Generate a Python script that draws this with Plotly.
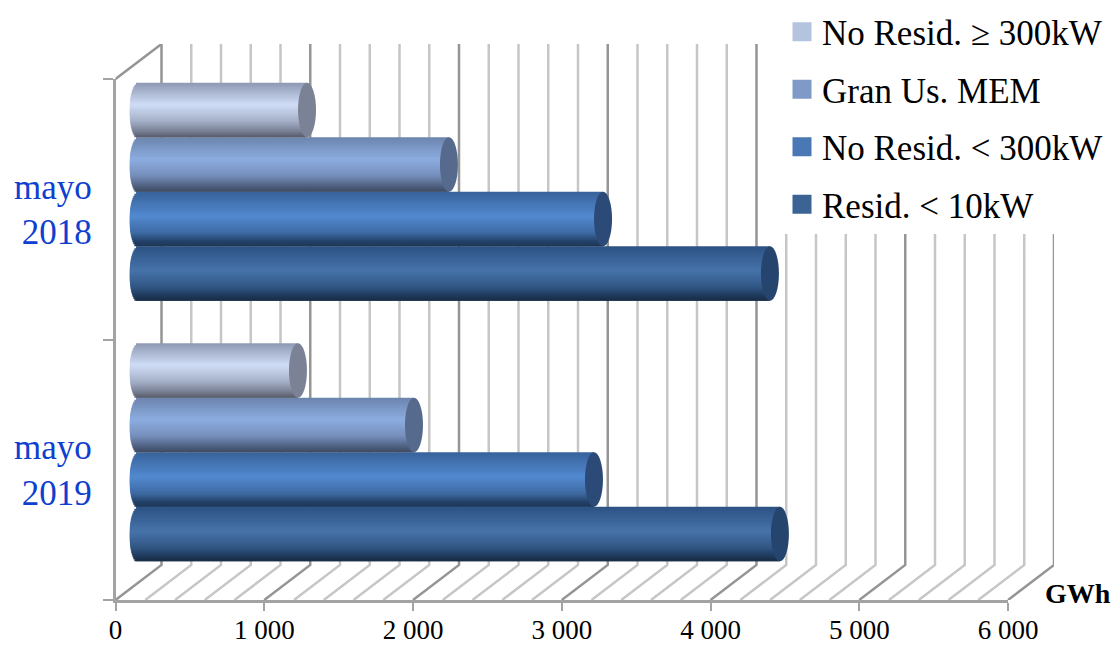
import math
import plotly.graph_objects as go

# ---- data ----
categories = ["mayo<br>2019", "mayo<br>2018"]
series_names = ["Resid. < 10kW", "No Resid. < 300kW", "Gran Us. MEM", "No Resid. ≥ 300kW"]
resid_lt_10 = [4312, 4245]
no_resid_lt_300 = [3062, 3123]
gran_us_mem = [1852, 2087]
no_resid_ge_300 = [1072, 1133]
tick_values = [0, 1000, 2000, 3000, 4000, 5000, 6000]
tick_labels = ["0", "1 000", "2 000", "3 000", "4 000", "5 000", "6 000"]
wall_steps = list(range(0, 6001, 200))

series_values = [resid_lt_10, no_resid_lt_300, gran_us_mem, no_resid_ge_300]
legend_colors = ["#3b6394", "#4a78b4", "#7f9ac6", "#b4c4de"]
cap_colors = ["#26456e", "#2b4a78", "#566a8d", "#7b8296"]
ramps = [
    [(0, "#2d5283"), (.45, "#4673aa"), (.75, "#315683"), (.9, "#1f3a5c"), (1, "#182c46")],
    [(0, "#38629a"), (.45, "#5289d0"), (.75, "#3e6aa3"), (.9, "#24436b"), (1, "#1d3655")],
    [(0, "#6b84ad"), (.4, "#8cace0"), (.7, "#7690bd"), (.9, "#4e5f7e"), (1, "#3d4a60")],
    [(0, "#8d98b3"), (.4, "#d0ddf6"), (.7, "#a6b1c9"), (.9, "#747c8f"), (1, "#565b69")],
]

# ---- geometry (pixels of the 1115x645 page) ----
W, H = 1115, 645
X0, X1, Y_BOTTOM, Y_TOP = 115.5, 1008, 600, 79
DX, DY = 46, 35                 # depth of the 3D box
PX_PER_UNIT = (X1 - X0) / 6000
PX_PER_CAT = (Y_BOTTOM - Y_TOP) / 2
BAR_H = 54.5 / PX_PER_CAT
CAP_PX = 9
CAP_A = CAP_PX / PX_PER_UNIT
N = 27


def xdom(a, b):
    return [a / W, b / W]


def ydom(top, bottom):
    return [1 - bottom / H, 1 - top / H]


def hex2rgb(c):
    return [int(c[i:i + 2], 16) for i in (1, 3, 5)]


def ramp_color(ramp, t):
    for (t0, c0), (t1, c1) in zip(ramp, ramp[1:]):
        if t <= t1:
            f = (t - t0) / (t1 - t0)
            a, b = hex2rgb(c0), hex2rgb(c1)
            return "rgb(%d,%d,%d)" % tuple(round(p + (q - p) * f) for p, q in zip(a, b))
    return ramp[-1][1]


fig = go.Figure()

# ---- walls and floor ----
dx_u, dy_c = DX / PX_PER_UNIT, DY / PX_PER_CAT
for major in (False, True):
    xs, ys = [], []
    for t in wall_steps:
        if (t % 1000 == 0) != major:
            continue
        xs += [t, t + dx_u, t + dx_u, None]
        ys += [-0.5, -0.5 + dy_c, 1.5 + dy_c, None]
    if major:
        xs += [0, dx_u, None]
        ys += [1.5, 1.5 + dy_c, None]
    fig.add_trace(go.Scatter(
        x=xs, y=ys, mode="lines", showlegend=False, hoverinfo="skip",
        line=dict(color="#959595" if major else "#c6c6c6", width=2.5),
        xaxis="x", yaxis="y"))

# ---- bars: each cylinder built of thin horizontal strips ----
shapes = []
idx = list(range(len(categories)))
for s, vals in enumerate(series_values):
    bar_top = -2 * BAR_H + (s + 1) * BAR_H
    for i in range(N):
        t = (i + .5) / N
        u = 2 * t - 1
        left = -CAP_A * math.sqrt(1 - u * u)
        rows = 2 if i < N - 1 else 1       # overlap the next strip, so no seams show
        fig.add_trace(go.Bar(
            y=idx, x=[v - left for v in vals], base=[left] * len(vals),
            orientation="h", width=rows * BAR_H / N,
            offset=bar_top - (i + rows) * BAR_H / N,
            marker=dict(color=ramp_color(ramps[s], t), line=dict(width=0)),
            showlegend=False, hoverinfo="skip", xaxis="x2", yaxis="y2"))
    for k, v in zip(idx, vals):
        shapes.append(dict(
            type="circle", xref="x2", yref="y2", layer="above",
            x0=v - CAP_A, x1=v + CAP_A,
            y0=k + bar_top - BAR_H, y1=k + bar_top,
            fillcolor=cap_colors[s], line=dict(width=0)))

# ---- front axes ----
fig.add_trace(go.Scatter(
    x=[0, 0], y=categories, mode="markers", marker=dict(opacity=0),
    showlegend=False, hoverinfo="skip", xaxis="x3", yaxis="y3"))

# ---- legend entries, top to bottom ----
for s in reversed(range(len(series_names))):
    fig.add_trace(go.Scatter(
        x=[None], y=[None], mode="markers", name=series_names[s],
        legendgroup=series_names[s],
        marker=dict(symbol="square", size=16, color=legend_colors[s],
                    line=dict(color=legend_colors[s], width=3)),
        xaxis="x3", yaxis="y3"))

SERIF = "Liberation Serif"
fig.update_layout(
    width=W, height=H, autosize=False,
    margin=dict(l=0, r=0, t=0, b=0, autoexpand=False),
    paper_bgcolor="white", plot_bgcolor="rgba(0,0,0,0)",
    barmode="overlay", shapes=shapes, font=dict(family=SERIF, color="#000000"),
    hovermode=False,
    xaxis=dict(domain=xdom(X0, X1 + DX), range=[0, 6000 + dx_u], visible=False, fixedrange=True),
    yaxis=dict(domain=ydom(Y_TOP - DY, Y_BOTTOM), range=[-.5, 1.5 + dy_c], visible=False, fixedrange=True),
    xaxis2=dict(domain=xdom(X0 + DX / 2 - CAP_PX, X1 + DX / 2), range=[-CAP_A, 6000], visible=False,
                anchor="y2", fixedrange=True),
    yaxis2=dict(domain=ydom(Y_TOP - DY / 2, Y_BOTTOM - DY / 2), range=[-.5, 1.5], visible=False,
                anchor="x2", fixedrange=True),
    xaxis3=dict(domain=xdom(X0, X1), range=[0, 6000], anchor="y3", showgrid=False, zeroline=False,
                showline=True, linecolor="#a3a3a3", linewidth=2.5,
                ticks="outside", ticklen=8, tickcolor="#a3a3a3", tickwidth=2,
                tickmode="array", tickvals=tick_values, ticktext=tick_labels,
                ticklabelstandoff=-4,
                tickfont=dict(family=SERIF, size=27, color="#000000"), fixedrange=True),
    yaxis3=dict(domain=ydom(Y_TOP, Y_BOTTOM), range=[-.5, 1.5], anchor="x3", type="category",
                categoryorder="array", categoryarray=categories, showgrid=False, zeroline=False,
                showline=True, linecolor="#a3a3a3", linewidth=2.5,
                ticks="outside", ticklen=10, tickcolor="#a3a3a3", tickwidth=2, tickson="boundaries",
                ticklabelstandoff=14,
                tickfont=dict(family=SERIF, size=35, color="#0f3fd0"), fixedrange=True),
    legend=dict(x=782 / W, y=0.996, xanchor="left", yanchor="top", bgcolor="white",
                borderwidth=0, traceorder="grouped", tracegroupgap=9, itemwidth=30,
                font=dict(family=SERIF, size=35, color="#000000"), itemclick=False, itemdoubleclick=False),
    annotations=[dict(text="<b>GWh</b>", xref="paper", yref="paper", x=1113 / W, y=1 - 593 / H,
                      xanchor="right", yanchor="middle", showarrow=False,
                      font=dict(family=SERIF, size=28, color="#000000"))],
)

fig.write_html("out.html", config=dict(displayModeBar=False),
               post_script="document.body.style.margin='0';")
